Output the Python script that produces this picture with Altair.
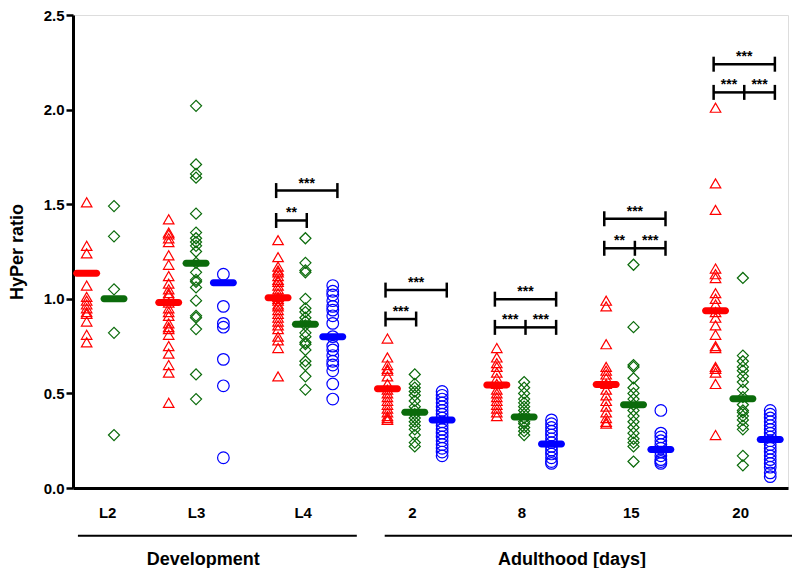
import altair as alt
import pandas as pd

groups = ["L2", "L3", "L4", "2", "8", "15", "20"]
series = ["red", "green", "blue"]

red_vals = {
    "L2": [1.51, 1.28, 1.24, 1.07, 1.01, 0.99, 0.97, 0.95, 0.93, 0.92, 0.88, 0.81, 0.77],
    "L3": [1.42, 1.35, 1.34, 1.32, 1.30, 1.23, 1.18, 1.12, 1.08, 1.05, 1.03, 1.02, 0.98, 0.95,
           0.93, 0.91, 0.87, 0.85, 0.84, 0.81, 0.75, 0.71, 0.65, 0.61, 0.45],
    "L4": [1.31, 1.22, 1.17, 1.15, 1.14, 1.12, 1.10, 1.09, 1.07, 1.05, 1.03, 1.01, 1.00, 0.99,
           0.97, 0.96, 0.94, 0.92, 0.90, 0.88, 0.86, 0.84, 0.80, 0.78, 0.74, 0.59],
    "2": [0.79, 0.69, 0.65, 0.63, 0.62, 0.59, 0.55, 0.52, 0.50, 0.48, 0.46, 0.44, 0.42, 0.40,
          0.38, 0.37, 0.36],
    "8": [0.74, 0.69, 0.66, 0.64, 0.61, 0.58, 0.55, 0.52, 0.50, 0.48, 0.46, 0.44, 0.42, 0.40, 0.38],
    "15": [0.99, 0.96, 0.76, 0.64, 0.62, 0.60, 0.58, 0.55, 0.52, 0.49, 0.46, 0.43, 0.40, 0.37,
           0.35, 0.34],
    "20": [2.01, 1.61, 1.47, 1.16, 1.13, 1.11, 1.03, 1.00, 0.97, 0.93, 0.90, 0.86, 0.81, 0.75,
           0.74, 0.64, 0.63, 0.61, 0.55, 0.28],
}
green_vals = {
    "L2": [1.49, 1.33, 1.05, 0.82, 0.28],
    "L3": [2.02, 1.71, 1.66, 1.64, 1.45, 1.35, 1.32, 1.30, 1.28, 1.25, 1.19, 1.14, 1.10, 1.09,
           1.06, 0.99, 0.91, 0.90, 0.84, 0.60, 0.47],
    "L4": [1.32, 1.19, 1.15, 1.14, 1.00, 0.95, 0.93, 0.90, 0.88, 0.86, 0.82, 0.80, 0.77, 0.76,
           0.73, 0.67, 0.65, 0.59, 0.52],
    "2": [0.60, 0.55, 0.53, 0.51, 0.49, 0.46, 0.43, 0.41, 0.39, 0.37, 0.35, 0.33, 0.31, 0.28,
          0.24, 0.22],
    "8": [0.56, 0.53, 0.50, 0.47, 0.45, 0.43, 0.41, 0.39, 0.37, 0.35, 0.34, 0.32, 0.30, 0.28],
    "15": [1.18, 0.85, 0.65, 0.64, 0.58, 0.53, 0.50, 0.47, 0.44, 0.41, 0.38, 0.35, 0.32, 0.29,
           0.26, 0.24, 0.22, 0.14],
    "20": [1.11, 0.70, 0.67, 0.64, 0.62, 0.59, 0.56, 0.52, 0.48, 0.44, 0.41, 0.40, 0.38, 0.36,
           0.33, 0.31, 0.17, 0.12],
}
blue_vals = {
    "L3": [1.13, 0.96, 0.87, 0.85, 0.68, 0.54, 0.16],
    "L4": [1.07, 1.04, 1.02, 0.99, 0.96, 0.94, 0.91, 0.87, 0.80, 0.75, 0.73, 0.70, 0.67, 0.65,
           0.62, 0.55, 0.47],
    "2": [0.51, 0.49, 0.47, 0.45, 0.43, 0.41, 0.39, 0.37, 0.35, 0.33, 0.31, 0.29, 0.27, 0.25,
          0.23, 0.21, 0.19, 0.17],
    "8": [0.36, 0.34, 0.32, 0.30, 0.28, 0.26, 0.24, 0.22, 0.20, 0.18, 0.16, 0.14, 0.13],
    "15": [0.41, 0.29, 0.27, 0.25, 0.23, 0.21, 0.19, 0.17, 0.15, 0.14, 0.13],
    "20": [0.41, 0.39, 0.37, 0.35, 0.33, 0.31, 0.29, 0.27, 0.25, 0.23, 0.21, 0.19, 0.17, 0.15,
           0.13, 0.11, 0.08, 0.06],
}

red_means = {"L2": 1.135, "L3": 0.98, "L4": 1.005, "2": 0.525, "8": 0.545, "15": 0.547, "20": 0.937}
green_means = {"L2": 1.0, "L3": 1.188, "L4": 0.865, "2": 0.40, "8": 0.375, "15": 0.44, "20": 0.472}
blue_means = {"L3": 1.085, "L4": 0.80, "2": 0.36, "8": 0.232, "15": 0.204, "20": 0.256}

# significance brackets: group, from-series, to-series, y level, label
brackets = [
    ("L4", 0, 2, 1.572, "***"), ("L4", 0, 1, 1.414, "**"),
    ("2", 0, 2, 1.046, "***"), ("2", 0, 1, 0.893, "***"),
    ("8", 0, 2, 0.998, "***"), ("8", 0, 1, 0.849, "***"), ("8", 1, 2, 0.849, "***"),
    ("15", 0, 2, 1.423, "***"), ("15", 0, 1, 1.267, "**"), ("15", 1, 2, 1.267, "***"),
    ("20", 0, 2, 2.24, "***"), ("20", 0, 1, 2.091, "***"), ("20", 1, 2, 2.091, "***"),
]

group_labels = ["L2", "L3", "L4", "2", "8", "15", "20"]
label_pos = [1.75, 5.0, 8.9, 12.9, 16.9, 20.9, 24.9]

section_names = ["Development", "Adulthood [days]"]
section_start = [0.68, 11.9]
section_end = [10.88, 26.8]
section_mid = [5.26, 18.75]

# ---------- build tables ----------
base_col = {}
c = 1
for g in groups:
    base_col[g] = c
    c += 3 if g == "L2" else 4

all_vals = [red_vals, green_vals, blue_vals]
all_means = [red_means, green_means, blue_means]

rows = []
for si, s in enumerate(series):
    for g, vals in all_vals[si].items():
        for v in vals:
            rows.append({"col": base_col[g] + si, "value": v, "series": s})
points = pd.DataFrame(rows)

mrows = []
for si, s in enumerate(series):
    for g, m in all_means[si].items():
        mrows.append({"col": base_col[g] + si, "value": m, "series": s})
means = pd.DataFrame(mrows)


def bx(g, si):
    return base_col[g] + si * 1.12 - 0.07


brows, cset = [], set()
for g, a, b, y, lab in brackets:
    x1, x2 = bx(g, a), bx(g, b)
    brows.append({"x1": x1, "x2": x2, "y": y, "mid": (x1 + x2) / 2, "label": lab})
    cset.add((round(x1, 4), y))
    cset.add((round(x2, 4), y))
br = pd.DataFrame(brows)
caps = pd.DataFrame([{"x": x, "y": y} for x, y in sorted(cset)])

sec = pd.DataFrame({"name": section_names, "x1": section_start, "x2": section_end,
                    "mid": section_mid, "yline": [-0.2526, -0.2526], "ytext": [-0.405, -0.405]})

FONT = "Liberation Sans"
colors = ["#FF0000", "#0B6B0B", "#0000FF"]
xs = alt.Scale(domain=[0.5, 26.65], nice=False, zero=False)
ys = alt.Scale(domain=[0, 2.5], nice=False, zero=False)

label_map = "{" + ",".join("'%g':'%s'" % (p, l) for p, l in zip(label_pos, group_labels)) + "}"
xaxis = alt.Axis(values=label_pos, labelExpr=label_map + "[datum.value]", ticks=False, tickSize=0,
                 grid=False, domainColor="black", domainWidth=3, labelFont=FONT,
                 labelFontSize=15, labelFontWeight="bold", labelColor="black",
                 labelBaseline="alphabetic", labelPadding=29, title=None, labelFlush=False,
                 labelOverlap=False)
yaxis = alt.Axis(values=[0, 0.5, 1.0, 1.5, 2.0, 2.5], format=".1f", grid=False,
                 domainColor="black", domainWidth=3, tickColor="black", tickWidth=2.5,
                 tickSize=7, labelPadding=2, labelFont=FONT, labelFontSize=15,
                 labelFontWeight="bold", labelColor="black", title="HyPer ratio",
                 titleFont=FONT, titleFontSize=18, titleFontWeight="bold", titleColor="black",
                 titleAngle=270, titleX=-51, titleY=236.5, titleAlign="center",
                 titleBaseline="alphabetic")


def X(field):
    return alt.X(field, type="quantitative", scale=xs, axis=xaxis)


def Y(field):
    return alt.Y(field, type="quantitative", scale=ys, axis=yaxis)


pts = alt.Chart(points).mark_point(filled=False, strokeWidth=1.2, opacity=1).encode(
    x=X("col"), y=Y("value"),
    color=alt.Color("series:N", scale=alt.Scale(domain=series, range=colors), legend=None),
    shape=alt.Shape("series:N", scale=alt.Scale(domain=series,
                    range=["triangle-up", "diamond", "circle"]), legend=None),
    size=alt.Size("series:N", scale=alt.Scale(domain=series, range=[110, 135, 100]), legend=None),
)

mbar = alt.Chart(means).mark_tick(orient="horizontal", size=27, thickness=7,
                                   cornerRadius=3.5, opacity=1).encode(
    x=X("col"), y=Y("value"),
    color=alt.Color("series:N", scale=alt.Scale(domain=series, range=colors), legend=None),
)

blines = alt.Chart(br).mark_rule(color="black", strokeWidth=2.5).encode(
    x=X("x1"), x2="x2", y=Y("y"))
bcaps = alt.Chart(caps).mark_tick(orient="vertical", color="black", size=15,
                                   thickness=2.5, opacity=1).encode(x=X("x"), y=Y("y"))
btext = alt.Chart(br).mark_text(font=FONT, fontSize=14, fontWeight="bold", color="black",
                                baseline="alphabetic", dy=-3).encode(
    x=X("mid"), y=Y("y"), text="label:N")

slines = alt.Chart(sec).mark_rule(color="black", strokeWidth=2).encode(
    x=X("x1"), x2="x2", y=Y("yline"))
stext = alt.Chart(sec).mark_text(font=FONT, fontSize=18, fontWeight="bold", color="black",
                                 baseline="alphabetic").encode(
    x=X("mid"), y=Y("ytext"), text="name:N")

chart = alt.layer(pts, mbar, blines, bcaps, btext, slines, stext).properties(
    width=715, height=473,
    autosize=alt.AutoSizeParams(type="none"),
    padding={"left": 65, "top": 7, "right": 4, "bottom": 80},
).configure_view(stroke=None).configure(background="white")

chart.save("out.html", embed_options={"renderer": "svg", "actions": False})
